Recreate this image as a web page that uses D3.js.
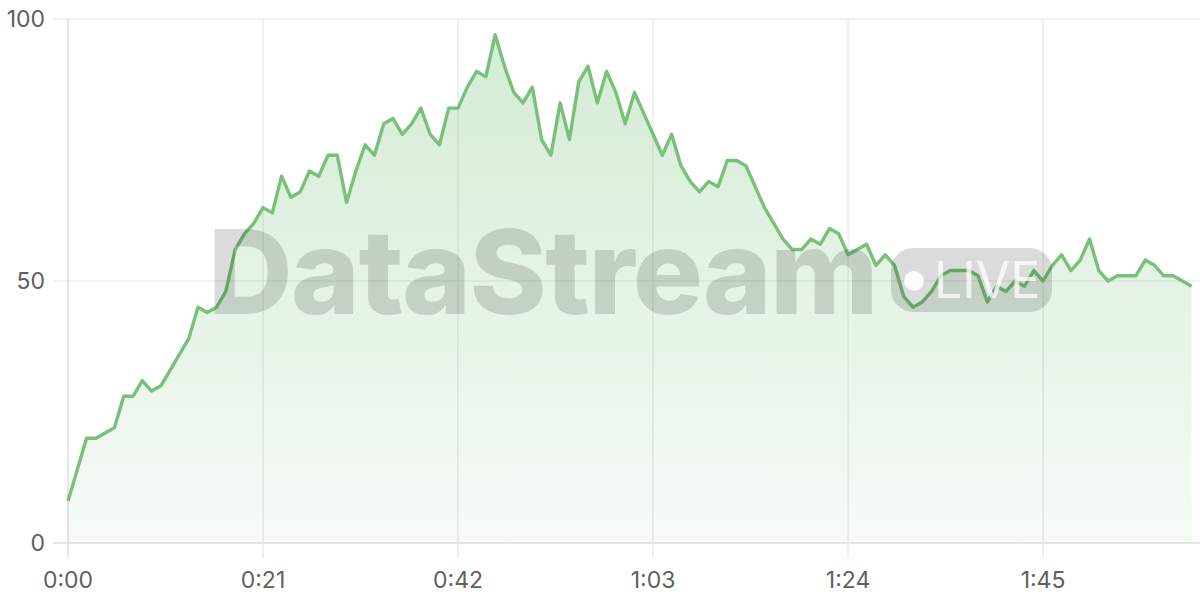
<!DOCTYPE html>
<html>
<head>
<meta charset="utf-8">
<script src="https://cdn.jsdelivr.net/npm/d3@7"></script>
<style>
html,body{margin:0;padding:0;background:#fff;}
svg{display:block;font-family:Inter,"Liberation Sans",sans-serif;}
</style>
</head>
<body>
<svg id="chart" width="1200" height="600"></svg>
<script>
// Seconds 0..121, one value per second
const values = [8,14,20,20,21,22,28,28,31,29,30,33,36,39,45,44,45,48,56,59,
  61,64,63,70,66,67,71,70,74,74,65,71,76,74,80,81,78,80,83,78,
  76,83,83,87,90,89,97,91,86,84,87,77,74,84,77,88,91,84,90,86,
  80,86,82,78,74,78,72,69,67,69,68,73,73,72,68,64,61,58,56,56,
  58,57,60,59,55,56,57,53,55,53,47,45,46,48,51,52,52,52,51,46,
  49,48,50,49,52,50,53,55,52,54,58,52,50,51,51,51,54,53,51,51,
  50,49];
const seconds = values.map((v,i)=>i);
const xTicks = [0,21,42,63,84,105];
const yTicks = [0,50,100];
const fmt = s => Math.floor(s/60) + ":" + String(s%60).padStart(2,"0");

const svg = d3.select("#chart");
const x = d3.scaleLinear().domain([0,121.9]).range([68,1200]);
const y = d3.scaleLinear().domain([0,100]).range([543,19]);

const defs = svg.append("defs");
const grad = defs.append("linearGradient").attr("id","fillGrad")
  .attr("gradientUnits","userSpaceOnUse").attr("x1",0).attr("x2",0).attr("y1",y(100)).attr("y2",y(0));
grad.append("stop").attr("offset","0%").attr("stop-color","#4caf50").attr("stop-opacity",0.25);
grad.append("stop").attr("offset","100%").attr("stop-color","#4caf50").attr("stop-opacity",0.05);

// grid
svg.append("g").selectAll("line").data(yTicks).join("line")
  .attr("x1",53).attr("x2",1200).attr("y1",d=>y(d)).attr("y2",d=>y(d))
  .attr("stroke",d=>d===0?"#d0d0d0":"#e6e6e6").attr("stroke-width",1.2);
svg.append("g").selectAll("line").data(xTicks).join("line")
  .attr("x1",d=>x(d)).attr("x2",d=>x(d)).attr("y1",y(100)).attr("y2",558)
  .attr("stroke",d=>d===0?"#d6d6d6":"#e6e6e6").attr("stroke-width",1.2);

// area + line
const data = seconds.map((s,i)=>({s, v: values[i]}));
svg.append("path").datum(data)
  .attr("d", d3.area().x(d=>x(d.s)).y0(y(0)).y1(d=>y(d.v)))
  .attr("fill","url(#fillGrad)");
svg.append("path").datum(data)
  .attr("d", d3.line().x(d=>x(d.s)).y(d=>y(d.v)))
  .attr("fill","none").attr("stroke","#79c07b").attr("stroke-width",3.4)
  .attr("stroke-linejoin","round");

// labels
svg.append("g").selectAll("text").data(yTicks).join("text")
  .attr("x",45).attr("y",d=>y(d)).attr("dy","0.36em").attr("text-anchor","end")
  .attr("font-size",23).attr("fill","#606060").text(d=>d);
svg.append("g").selectAll("text").data(xTicks).join("text")
  .attr("x",d=>x(d)).attr("y",588).attr("text-anchor","middle")
  .attr("font-size",23).attr("fill","#606060").text(d=>fmt(d));

// watermark
const wm = svg.append("g").attr("pointer-events","none");
wm.append("text").attr("x",208).attr("y",314).attr("font-size",117).attr("font-weight",800)
  .attr("letter-spacing",-1.5)
  .attr("fill","rgba(0,0,0,0.14)").text("DataStream");
wm.append("rect").attr("x",891).attr("y",248).attr("width",161).attr("height",64).attr("rx",22)
  .attr("fill","rgba(0,0,0,0.14)");
wm.append("circle").attr("cx",914).attr("cy",281).attr("r",10).attr("fill","rgba(255,255,255,0.9)");
wm.append("text").attr("x",934).attr("y",298).attr("font-size",50).attr("font-weight",400)
  .attr("fill","rgba(255,255,255,0.75)").text("LIVE");
</script>
</body>
</html>
